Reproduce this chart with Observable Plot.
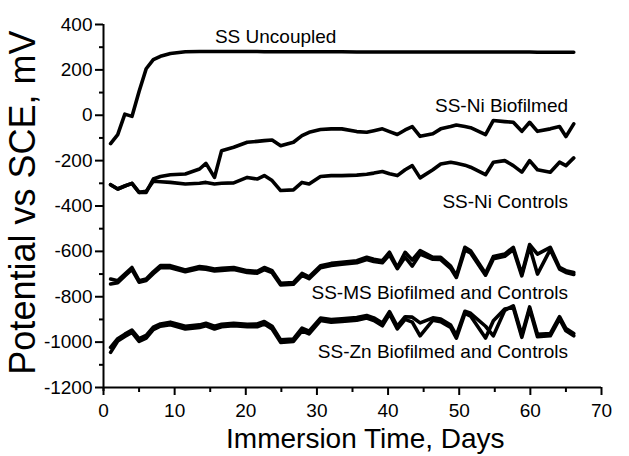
<!DOCTYPE html>
<html>
<head>
<meta charset="utf-8">
<script src="https://cdn.jsdelivr.net/npm/d3@7"></script>
<script src="https://cdn.jsdelivr.net/npm/@observablehq/plot@0.6"></script>
<style>
  html, body { margin: 0; padding: 0; background: #fff; }
  #chart { width: 629px; height: 456px; }
</style>
</head>
<body>
<div id="chart"></div>
<script>
// Immersion time (days) of each measurement
const days = [1, 2, 3, 4, 5, 6, 7, 8, 9.4, 11.5, 13.5, 14.4, 15.6, 16.6, 18.3, 20.2, 21.6, 22.6, 23.7, 24.9,
  26.7, 27.9, 28.9, 30.5, 32, 33.5, 35.6, 37, 38, 39.2, 40.2, 41.3, 42.4, 43.4, 44.5, 46.3, 47.4, 48.8,
  49.6, 50.8, 51.6, 53.7, 54.8, 56.4, 57.6, 58.8, 59.9, 61, 62.8, 64.1, 65, 66.1];

// Potential vs SCE, mV
const ssUncoupled = [-125, -85, 5, -5, 105, 205, 245, 260, 272, 280, 281, 281, 281, 281, 281, 281, 281, 280, 280, 280,
  280, 280, 280, 280, 280, 280, 279, 279, 279, 279, 279, 279, 279, 279, 279, 279, 279, 279,
  279, 279, 279, 279, 279, 279, 279, 279, 279, 278, 278, 278, 278, 278];
const niBiofilmed = [-306, -325, -312, -300, -340, -340, -281, -270, -262, -259, -237, -212, -274, -156, -141, -119, -115, -112, -109, -134,
  -119, -90, -75, -63, -60, -60, -72, -75, -68, -60, -72, -85, -65, -50, -93, -82, -60, -50,
  -43, -50, -55, -85, -23, -28, -31, -71, -31, -71, -60, -50, -94, -38];
const niControls = [-306, -325, -312, -300, -340, -335, -291, -293, -296, -303, -300, -296, -303, -300, -298, -274, -281, -266, -288, -332,
  -329, -296, -303, -270, -266, -266, -264, -260, -255, -248, -258, -266, -240, -222, -276, -240, -215, -207,
  -212, -220, -229, -262, -207, -200, -222, -251, -200, -240, -251, -207, -222, -188];
const msBiofilmed = [-722, -729, -700, -671, -729, -722, -690, -663, -663, -682, -667, -670, -678, -675, -671, -685, -688, -671, -685, -741,
  -737, -697, -712, -663, -653, -648, -641, -626, -635, -641, -604, -671, -604, -638, -597, -626, -626, -665,
  -707, -582, -597, -697, -623, -612, -582, -700, -570, -612, -582, -671, -685, -693];
const msControls = [-744, -738, -708, -680, -736, -728, -698, -672, -672, -690, -676, -679, -686, -684, -680, -693, -696, -680, -694, -748,
  -745, -706, -720, -672, -662, -657, -650, -636, -645, -650, -615, -676, -625, -665, -612, -635, -636, -675,
  -715, -595, -607, -705, -633, -622, -592, -708, -580, -700, -592, -678, -693, -702];
const znBiofilmed = [-1045, -995, -975, -957, -997, -982, -945, -930, -923, -942, -935, -928, -942, -932, -928, -932, -932, -920, -942, -1001,
  -997, -950, -964, -905, -912, -909, -903, -894, -905, -928, -876, -942, -900, -912, -972, -903, -910, -935,
  -982, -873, -885, -982, -906, -854, -847, -979, -854, -976, -972, -898, -950, -972];
const znControls = [-1023, -985, -965, -947, -985, -970, -934, -920, -912, -930, -924, -917, -930, -921, -917, -921, -920, -909, -930, -990,
  -986, -938, -952, -894, -900, -897, -892, -883, -893, -916, -866, -930, -888, -890, -915, -893, -898, -925,
  -970, -864, -873, -930, -972, -860, -840, -968, -845, -965, -962, -888, -940, -962];

// Curve labels
const labelTexts = ["SS Uncoupled", "SS-Ni Biofilmed", "SS-Ni Controls", "SS-MS Biofilmed and Controls", "SS-Zn Biofilmed and Controls"];
const labelDays = [24.2, 65.3, 65.3, 65.3, 65.3];
const labelValues = [344, 43, -384, -781, -1045];
const labelAnchors = ["middle", "end", "end", "end", "end"];

// Ticks
const xMajorTicks = [0, 10, 20, 30, 40, 50, 60, 70];
const xMinorTicks = [5, 15, 25, 35, 45, 55, 65];
const yMajorTicks = [-1200, -1000, -800, -600, -400, -200, 0, 200, 400];
const yMinorTicks = [-1100, -900, -700, -500, -300, -100, 100, 300];

const xTitle = "Immersion Time, Days";
const yTitle = "Potential vs SCE, mV";

const seriesList = [
  ["SS Uncoupled", ssUncoupled],
  ["SS-Ni Biofilmed", niBiofilmed],
  ["SS-Ni Controls", niControls],
  ["SS-MS Biofilmed", msBiofilmed],
  ["SS-MS Controls", msControls],
  ["SS-Zn Biofilmed", znBiofilmed],
  ["SS-Zn Controls", znControls]
];
const rows = seriesList.flatMap(([name, vals]) => vals.map((v, i) => ({series: name, day: days[i], value: v})));
const labels = labelTexts.map((t, i) => ({text: t, day: labelDays[i], value: labelValues[i], anchor: labelAnchors[i]}));

const font = "'Liberation Sans', Arial, Helvetica, sans-serif";
const plainFormat = d => String(d);

const chart = Plot.plot({
  width: 629,
  height: 456,
  marginLeft: 103,
  marginRight: 28,
  marginTop: 24,
  marginBottom: 69,
  style: {fontFamily: font, fontSize: "19px", color: "#000", background: "#fff", overflow: "visible"},
  x: {domain: [0, 70]},
  y: {domain: [-1200, 400]},
  marks: [
    Plot.axisX({ticks: xMajorTicks, tickSize: 8, tickPadding: 8, strokeWidth: 2, label: null, fontSize: 19, tickFormat: plainFormat}),
    Plot.axisX({ticks: xMinorTicks, tickSize: 5, strokeWidth: 2, text: null, label: null}),
    Plot.axisY({ticks: yMajorTicks, tickSize: 8, tickPadding: 3, strokeWidth: 2, label: null, fontSize: 19, tickFormat: plainFormat}),
    Plot.axisY({ticks: yMinorTicks, tickSize: 4, strokeWidth: 2, text: null, label: null}),
    Plot.ruleX([0], {stroke: "#000", strokeWidth: 2, insetBottom: -4}),
    Plot.ruleY([-1200], {stroke: "#000", strokeWidth: 2}),
    Plot.line(rows, {x: "day", y: "value", z: "series", stroke: "#000", strokeWidth: 3.6, strokeLinejoin: "round", strokeLinecap: "round"}),
    Plot.text(labels.filter(d => d.anchor === "middle"), {x: "day", y: "value", text: "text", textAnchor: "middle", lineAnchor: "middle", fontSize: 19, fill: "#000"}),
    Plot.text(labels.filter(d => d.anchor === "end"), {x: "day", y: "value", text: "text", textAnchor: "end", lineAnchor: "middle", fontSize: 19, fill: "#000"}),
    Plot.text([xTitle], {x: 36.8, frameAnchor: "bottom", dy: 52, text: d => d, textAnchor: "middle", lineAnchor: "middle", fontSize: 28, fill: "#000"}),
    Plot.text([yTitle], {y: -385, frameAnchor: "left", dx: -80, rotate: -90, text: d => d, textAnchor: "middle", lineAnchor: "middle", fontSize: 36, fill: "#000"})
  ]
});
document.getElementById("chart").appendChild(chart);
</script>
</body>
</html>
